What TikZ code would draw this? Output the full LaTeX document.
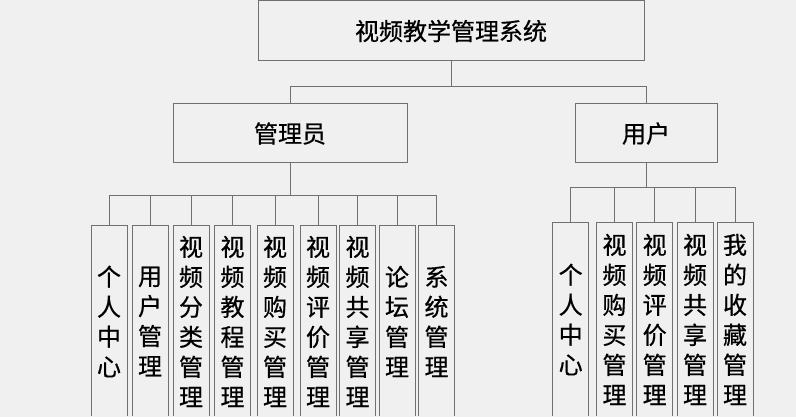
\documentclass[tikz,border=0pt]{standalone}
\usepackage{fontspec}
\setmainfont{Noto Sans CJK SC}[BoldFont={Noto Sans CJK SC},BoldFeatures={FakeBold=0.6}]
\definecolor{bg}{HTML}{F0F0F0}
\definecolor{edge}{HTML}{707070}
\tikzset{
	box/.style={draw=edge, line width=0.75pt, inner sep=0pt, font=\bfseries\fontsize{18pt}{22.5pt}\selectfont},
	kid/.style={box, anchor=north, minimum width=27pt, align=center},
	link/.style={edge, line width=0.75pt}
}
\begin{document}
\begin{tikzpicture}[x=0.75pt,y=-0.75pt]
		\useasboundingbox (0,0) rectangle (796,417);
		\fill[bg] (0,0) rectangle (796,417);
		\clip (0,0) rectangle (796,415.5);
		
		\node[box, minimum width=289.5pt, minimum height=45pt] (sys) at (451,31) {视频教学管理系统};
		\node[box, minimum width=175.5pt, minimum height=44.25pt] (adm) at (290,133.5) {管理员};
		\node[box, minimum width=106.5pt, minimum height=44.25pt] (usr) at (646,133.5) {用户};
		
		\node[kid, minimum height=144pt] (a1) at (109,225) {个\\人\\中\\心};
		\node[kid, minimum height=144pt] (a2) at (150,225) {用\\户\\管\\理};
		\node[kid, minimum height=144pt] (a3) at (191,225) {视\\频\\分\\类\\管\\理};
		\node[kid, minimum height=144pt] (a4) at (232.5,225) {视\\频\\教\\程\\管\\理};
		\node[kid, minimum height=144pt] (a5) at (275,225) {视\\频\\购\\买\\管\\理};
		\node[kid, minimum height=144pt] (a6) at (318,225) {视\\频\\评\\价\\管\\理};
		\node[kid, minimum height=144pt] (a7) at (357.5,225) {视\\频\\共\\享\\管\\理};
		\node[kid, minimum height=144pt] (a8) at (397,225) {论\\坛\\管\\理};
		\node[kid, minimum height=144pt] (a9) at (436.5,225) {系\\统\\管\\理};
		
		\node[kid, minimum height=145.5pt] (u1) at (570.7,222) {个\\人\\中\\心};
		\node[kid, minimum height=145.5pt] (u2) at (614.5,222) {视\\频\\购\\买\\管\\理};
		\node[kid, minimum height=145.5pt] (u3) at (654.7,222) {视\\频\\评\\价\\管\\理};
		\node[kid, minimum height=145.5pt] (u4) at (695,222) {视\\频\\共\\享\\管\\理};
		\node[kid, minimum height=145.5pt] (u5) at (735,222) {我\\的\\收\\藏\\管\\理};
		
		\draw[link] (sys.south) -- ++(0,25) coordinate (j0);
		\draw[link] (adm.north) |- (j0) -| (usr.north);
		
		\draw[link] (adm.south) -- ++(0,32) coordinate (j1);
		\draw[link] (j1) -| (a1.north);
		\draw[link] (j1) -| (a2.north);
		\draw[link] (j1) -| (a3.north);
		\draw[link] (j1) -| (a4.north);
		\draw[link] (j1) -| (a5.north);
		\draw[link] (j1) -| (a6.north);
		\draw[link] (j1) -| (a7.north);
		\draw[link] (j1) -| (a8.north);
		\draw[link] (j1) -| (a9.north);
		
		\draw[link] (usr.south) -- ++(0,24) coordinate (j2);
		\draw[link] (j2) -| (u1.north);
		\draw[link] (j2) -| (u2.north);
		\draw[link] (j2) -| (u3.north);
		\draw[link] (j2) -| (u4.north);
		\draw[link] (j2) -| (u5.north);
	\end{tikzpicture}
\end{document}
